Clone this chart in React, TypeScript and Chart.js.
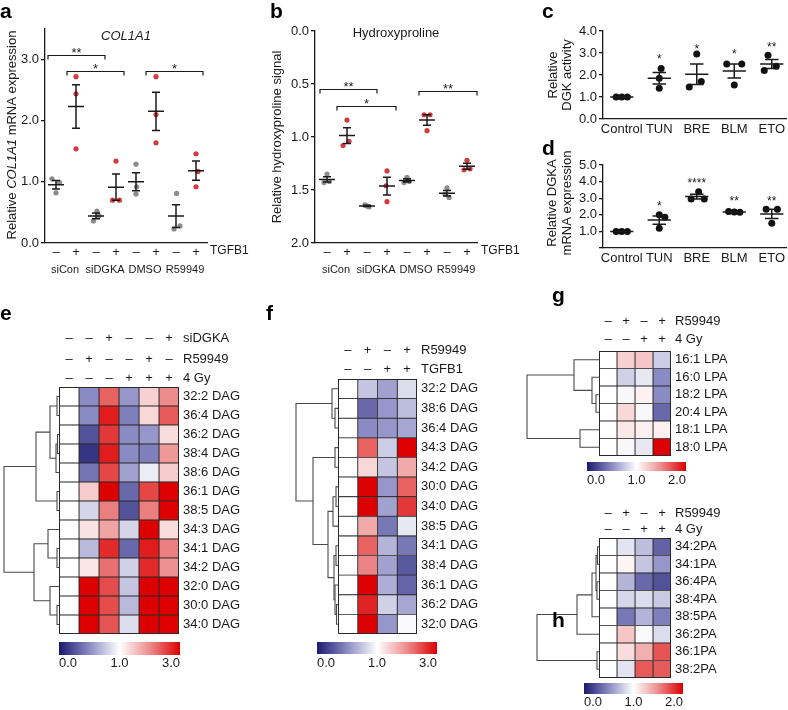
import React, { useEffect, useRef } from 'react';
import { Chart, registerables } from 'chart.js';

Chart.register(...registerables);

const FONT = '"Liberation Sans", Arial, Helvetica, sans-serif';
Chart.defaults.font.family = FONT;
Chart.defaults.font.size = 12.5;
Chart.defaults.color = '#1a1a1a';

const INK = '#1a1a1a';
const GREY_DOT = '#8c8c8c';
const RED_DOT = '#d43b3f';
const BLACK_DOT = '#111111';

// ---------------- Panel a ----------------
const aTitle = 'COL1A1';
const aSigns = ['–', '+', '–', '+', '–', '+', '–', '+'];
const aGroups = ['siCon', 'siDGKA', 'DMSO', 'R59949'];
const aTreatment = 'TGFB1';
const aValues = [
  [1.05, 0.99, 0.82],
  [2.72, 2.44, 1.54],
  [0.52, 0.45, 0.36],
  [1.34, 0.7, 0.7],
  [1.29, 0.92, 0.8],
  [2.72, 2.1, 1.64],
  [0.81, 0.23, 0.28],
  [1.46, 1.17, 0.92],
];
const aJitter = [
  [-0.2, 0.17, 0],
  [0, 0, 0],
  [0.05, 0.15, -0.13],
  [0, -0.17, 0.17],
  [0, 0.03, 0],
  [0, 0, 0],
  [0.03, -0.1, 0.2],
  [0, 0.1, 0],
];
const aYTicks = [0, 1, 2, 3];
const aBrackets = [
  { x1: -0.4, x2: 2.45, y: 3.07, label: '**' },
  { x1: 0.55, x2: 3.4, y: 2.81, label: '*' },
  { x1: 4.5, x2: 7.35, y: 2.81, label: '*' },
];

// ---------------- Panel b ----------------
const bTitle = 'Hydroxyproline';
const bYTitle = 'Relative hydroxyproline signal';
const bSigns = ['–', '+', '–', '+', '–', '+', '–', '+'];
const bGroups = ['siCon', 'siDGKA', 'DMSO', 'R59949'];
const bTreatment = 'TGFB1';
const bValues = [
  [1.35, 1.43, 1.42],
  [0.84, 1.08, 1.04],
  [1.64, 1.65, 1.66],
  [1.32, 1.46, 1.61],
  [1.38, 1.43, 1.42],
  [0.79, 0.79, 0.94],
  [1.48, 1.54, 1.57],
  [1.22, 1.31, 1.3],
];
const bJitter = [
  [0, -0.15, 0.12],
  [0, -0.2, 0.1],
  [-0.1, 0, 0.1],
  [0, -0.05, 0],
  [0, -0.15, 0.12],
  [-0.15, 0.15, 0],
  [0, -0.1, 0.1],
  [0, -0.15, 0.15],
];
const bYTicks = [0, 0.5, 1, 1.5, 2];
const bBrackets = [
  { x1: -0.35, x2: 2.5, y: 0.55, label: '**' },
  { x1: 0.5, x2: 3.45, y: 0.71, label: '*' },
  { x1: 4.6, x2: 7.5, y: 0.57, label: '**' },
];

// ---------------- Panel c ----------------
const cCats = ['Control', 'TUN', 'BRE', 'BLM', 'ETO'];
const cYTitle = ['Relative', 'DGK activity'];
const cValues = [
  [1, 1, 1],
  [2.3, 1.85, 1.4],
  [2.95, 1.45, 1.7],
  [2.5, 2.5, 1.55],
  [2.9, 2.2, 2.4],
];
const cJitter = [
  [-0.15, 0, 0.15],
  [0.05, 0, 0],
  [0, -0.2, 0.12],
  [-0.2, 0.2, 0],
  [-0.1, -0.2, 0.12],
];
const cYTicks = [0, 1, 2, 3, 4];
const cStars = ['', '*', '*', '*', '**'];
const cStarY = [0, 2.85, 3.3, 3.08, 3.4];

// ---------------- Panel d ----------------
const dCats = ['Control', 'TUN', 'BRE', 'BLM', 'ETO'];
const dYTitle = ['Relative DGKA', 'mRNA expression'];
const dValues = [
  [1, 1, 1],
  [2.0, 1.85, 1.19],
  [3.39, 2.95, 2.95],
  [2.2, 2.17, 2.15],
  [2.33, 2.33, 1.49],
];
const dJitter = [
  [-0.15, 0, 0.15],
  [0, 0.15, 0],
  [0.05, -0.15, 0.2],
  [-0.15, 0, 0.15],
  [-0.15, 0.15, 0],
];
const dYTicks = [0, 1, 2, 3, 4, 5];
const dStars = ['', '*', '****', '**', '**'];
const dStarY = [0, 2.7, 4.1, 3.0, 3.0];

// ---------------- Panel e ----------------
const eRows = ['32:2 DAG', '36:4 DAG', '36:2 DAG', '38:4 DAG', '38:6 DAG', '36:1 DAG', '38:5 DAG', '34:3 DAG', '34:1 DAG', '34:2 DAG', '32:0 DAG', '30:0 DAG', '34:0 DAG'];
const eHeaderLabels = ['siDGKA', 'R59949', '4 Gy'];
const eHeaderSigns = [
  ['–', '–', '+', '–', '–', '+'],
  ['–', '+', '–', '–', '+', '–'],
  ['–', '–', '–', '+', '+', '+'],
];
const eValues = [
  [1, 0.5, 2.3, 0.55, 1.4, 2.0],
  [1, 0.5, 2.8, 0.45, 1.35, 2.35],
  [1, 0.25, 2.6, 0.5, 0.55, 1.3],
  [1, 0.12, 2.8, 0.5, 0.45, 1.9],
  [1, 0.4, 2.5, 0.6, 0.92, 1.45],
  [1, 1.45, 3.0, 0.35, 2.5, 3.0],
  [1, 0.82, 2.1, 0.25, 2.1, 3.0],
  [1, 1.25, 1.8, 0.82, 3.0, 1.3],
  [1, 0.7, 2.7, 0.35, 2.8, 2.1],
  [1, 1.22, 2.2, 0.8, 2.7, 1.95],
  [1, 3.0, 2.45, 0.75, 3.0, 3.0],
  [1, 3.0, 2.45, 0.7, 3.0, 3.0],
  [1, 3.0, 2.4, 0.85, 3.0, 3.0],
];
const eRange: [number, number, number] = [0, 1, 3];
const eScaleLabels = ['0.0', '1.0', '3.0'];
// linkage: [childA, childB, height]; leaves are 0..n-1, merges n.. in order
const eMerges = [
  [0, 1, 2], [2, 3, 1.5], [14, 4, 3], [13, 15, 9], [5, 6, 2], [16, 17, 23],
  [8, 9, 2], [7, 19, 11], [11, 12, 2], [10, 21, 9], [20, 22, 25], [18, 23, 55],
];
const eHeight = 55;

// ---------------- Panel f ----------------
const fRows = ['32:2 DAG', '38:6 DAG', '36:4 DAG', '34:3 DAG', '34:2 DAG', '30:0 DAG', '34:0 DAG', '38:5 DAG', '34:1 DAG', '38:4 DAG', '36:1 DAG', '36:2 DAG', '32:0 DAG'];
const fHeaderLabels = ['R59949', 'TGFB1'];
const fHeaderSigns = [
  ['–', '+', '–', '+'],
  ['–', '–', '+', '+'],
];
const fValues = [
  [1, 0.75, 0.6, 0.85],
  [1, 0.35, 0.55, 0.72],
  [1, 0.5, 0.55, 0.62],
  [1, 2.3, 0.78, 3.0],
  [1, 1.35, 0.75, 1.75],
  [1, 3.0, 0.55, 2.3],
  [1, 3.0, 0.6, 2.6],
  [1, 1.75, 0.42, 0.9],
  [1, 2.3, 0.68, 0.42],
  [1, 2.05, 0.6, 0.28],
  [1, 3.0, 0.65, 0.33],
  [1, 2.75, 0.8, 0.62],
  [1, 3.0, 0.55, 0.98],
];
const fRange: [number, number, number] = [0, 1, 3];
const fScaleLabels = ['0.0', '1.0', '3.0'];
const fMerges = [
  [1, 2, 3], [0, 13, 6], [3, 4, 3], [5, 6, 2], [16, 7, 5], [8, 9, 2],
  [11, 12, 1.5], [10, 19, 3], [18, 20, 4], [17, 21, 10], [15, 22, 25], [14, 23, 42],
];
const fHeight = 42;

// ---------------- Panel g ----------------
const gRows = ['16:1 LPA', '16:0 LPA', '18:2 LPA', '20:4 LPA', '18:1 LPA', '18:0 LPA'];
const gHeaderLabels = ['R59949', '4 Gy'];
const gHeaderSigns = [
  ['–', '+', '–', '+'],
  ['–', '–', '+', '+'],
];
const gValues = [
  [1, 1.2, 1.25, 0.78],
  [1, 0.8, 0.9, 0.5],
  [1, 0.97, 1.06, 0.5],
  [1, 1.17, 0.97, 0.35],
  [1, 1.1, 1.07, 1.07],
  [1, 0.97, 0.9, 2.0],
];
const gRange: [number, number, number] = [0, 1, 2];
const gScaleLabels = ['0.0', '1.0', '2.0'];
const gMerges = [[2, 3, 3], [1, 6, 7], [0, 7, 25], [4, 5, 19], [8, 9, 72]];
const gHeight = 72;

// ---------------- Panel h ----------------
const hRows = ['34:2PA', '34:1PA', '36:4PA', '38:4PA', '38:5PA', '36:2PA', '36:1PA', '38:2PA'];
const hHeaderLabels = ['R59949', '4 Gy'];
const hHeaderSigns = [
  ['–', '+', '–', '+'],
  ['–', '–', '+', '+'],
];
const hValues = [
  [1, 0.88, 0.72, 0.32],
  [1, 1.05, 0.75, 0.55],
  [1, 0.68, 0.35, 0.25],
  [1, 0.83, 0.85, 0.77],
  [1, 0.42, 0.68, 0.45],
  [1, 1.25, 0.98, 0.85],
  [1, 1.15, 1.35, 1.7],
  [1, 0.88, 1.68, 1.68],
];
const hRange: [number, number, number] = [0, 1, 2];
const hScaleLabels = ['0.0', '1.0', '2.0'];
const hMerges = [[0, 1, 1.5], [2, 3, 2], [8, 9, 3], [10, 4, 7], [11, 5, 22], [6, 7, 2], [12, 13, 62]];
const hHeight = 62;

// ---------------- helpers ----------------
const mean = (a: number[]) => a.reduce((s, v) => s + v, 0) / a.length;
const sem = (a: number[]) => {
  const m = mean(a);
  const v = a.reduce((s, x) => s + (x - m) ** 2, 0) / (a.length - 1);
  return Math.sqrt(v / a.length);
};

type TxtOpt = { size?: number; align?: CanvasTextAlign; baseline?: CanvasTextBaseline; italic?: boolean; bold?: boolean; color?: string };
function txt(ctx: CanvasRenderingContext2D, s: string, x: number, y: number, o: TxtOpt = {}) {
  ctx.save();
  ctx.font = `${o.italic ? 'italic ' : ''}${o.bold ? 'bold ' : ''}${o.size ?? 12.5}px ${FONT}`;
  ctx.textAlign = o.align ?? 'center';
  ctx.textBaseline = o.baseline ?? 'middle';
  ctx.fillStyle = o.color ?? INK;
  ctx.fillText(s, x, y);
  ctx.restore();
}
function vtxt(ctx: CanvasRenderingContext2D, parts: [string, boolean][], cx: number, cy: number, size: number) {
  ctx.save();
  ctx.translate(cx, cy);
  ctx.rotate(-Math.PI / 2);
  const fonts = parts.map(([, it]) => `${it ? 'italic ' : ''}${size}px ${FONT}`);
  let total = 0;
  const widths = parts.map(([s], i) => {
    ctx.font = fonts[i];
    const w = ctx.measureText(s).width;
    total += w;
    return w;
  });
  let x = -total / 2;
  ctx.textBaseline = 'middle';
  ctx.textAlign = 'left';
  ctx.fillStyle = INK;
  parts.forEach(([s], i) => {
    ctx.font = fonts[i];
    ctx.fillText(s, x, 0);
    x += widths[i];
  });
  ctx.restore();
}
function drawBrackets(chart: any, brackets: { x1: number; x2: number; y: number; label: string }[]) {
  const { ctx, scales: { x, y } } = chart;
  ctx.save();
  ctx.strokeStyle = INK;
  ctx.lineWidth = 1.2;
  brackets.forEach((b) => {
    const x1 = x.getPixelForValue(b.x1);
    const x2 = x.getPixelForValue(b.x2);
    const py = Math.round(y.getPixelForValue(b.y)) + 0.5;
    ctx.beginPath();
    ctx.moveTo(x1, py + 4);
    ctx.lineTo(x1, py);
    ctx.lineTo(x2, py);
    ctx.lineTo(x2, py + 4);
    ctx.stroke();
    txt(ctx, b.label, (x1 + x2) / 2, py + 1, { baseline: 'alphabetic', size: 13 });
  });
  ctx.restore();
}

interface DotSpec {
  values: number[][];
  jitter: number[][];
  colors: string[];
  radius: number;
  xmin: number;
  xmax: number;
  ymin: number;
  ymax: number;
  reverse?: boolean;
  xLabels: string[];
  yTicks: number[];
  hideZero?: boolean;
  meanHalf: number;
  capHalf: number;
  yAxisW: number;
  xAxisH: number;
  pad: { left: number; top: number; right: number; bottom: number };
  xTickPad: number;
  xFont: number;
  extra: (chart: any) => void;
}

function dotConfig(s: DotSpec): any {
  const datasets: any[] = [];
  const seg: any[] = [];
  s.values.forEach((vals, i) => {
    const m = mean(vals);
    const e = sem(vals);
    seg.push(
      { x: i - s.meanHalf, y: m }, { x: i + s.meanHalf, y: m }, { x: i, y: null },
      { x: i, y: m - e }, { x: i, y: m + e }, { x: i, y: null },
      { x: i - s.capHalf, y: m + e }, { x: i + s.capHalf, y: m + e }, { x: i, y: null },
      { x: i - s.capHalf, y: m - e }, { x: i + s.capHalf, y: m - e }, { x: i, y: null },
    );
  });
  datasets.push({
    data: seg,
    showLine: true,
    spanGaps: false,
    borderColor: INK,
    borderWidth: 1.5,
    pointRadius: 0,
    order: 0,
    clip: false,
  });
  s.values.forEach((vals, i) => {
    datasets.push({
      data: vals.map((v, k) => ({ x: i + s.jitter[i][k], y: v })),
      showLine: false,
      pointRadius: s.radius,
      pointBackgroundColor: s.colors[i],
      pointBorderColor: s.colors[i],
      pointBorderWidth: 0,
      order: 1,
      clip: false,
    });
  });
  return {
    type: 'scatter',
    data: { datasets },
    options: {
      responsive: false,
      animation: false,
      events: [],
      layout: { padding: s.pad, autoPadding: false },
      plugins: { legend: { display: false }, tooltip: { enabled: false } },
      scales: {
        x: {
          type: 'linear',
          min: s.xmin,
          max: s.xmax,
          afterBuildTicks: (ax: any) => {
            ax.ticks = s.xLabels.map((_, i) => ({ value: i }));
          },
          afterFit: (ax: any) => {
            ax.height = s.xAxisH;
          },
          ticks: {
            autoSkip: false,
            maxRotation: 0,
            minRotation: 0,
            padding: s.xTickPad,
            font: { size: s.xFont },
            color: INK,
            callback: (v: any) => s.xLabels[Math.round(v)] ?? '',
          },
          grid: { display: false, drawTicks: false },
          border: { display: true, color: INK, width: 1.3 },
        },
        y: {
          type: 'linear',
          min: s.ymin,
          max: s.ymax,
          reverse: !!s.reverse,
          afterBuildTicks: (ax: any) => {
            ax.ticks = s.yTicks.map((v) => ({ value: v }));
          },
          afterFit: (ax: any) => {
            ax.width = s.yAxisW;
          },
          ticks: {
            autoSkip: false,
            padding: 2,
            font: { size: 13 },
            color: INK,
            callback: (v: any) => (s.hideZero && v === 0 ? '' : Number(v).toFixed(1)),
          },
          grid: { drawOnChartArea: false, drawTicks: true, tickLength: 4, color: INK, lineWidth: 1.3 },
          border: { display: true, color: INK, width: 1.3 },
        },
      },
    },
    plugins: [{ id: 'dotExtras', afterDraw: (chart: any) => s.extra(chart) }],
  };
}

// heatmap colors
const NAVY = [26, 26, 110];
const MIDBLUE = [138, 138, 196];
const WHITE = [255, 255, 255];
const MIDRED = [236, 140, 140];
const RED = [221, 0, 0];
const mix = (a: number[], b: number[], t: number) =>
  `rgb(${a.map((v, i) => Math.round(v + (b[i] - v) * t)).join(',')})`;
function heatColor(v: number, [lo, mid, hi]: [number, number, number]) {
  if (v <= mid) {
    const t = Math.min(1, (mid - v) / (mid - lo));
    return t < 0.5 ? mix(WHITE, MIDBLUE, t * 2) : mix(MIDBLUE, NAVY, (t - 0.5) * 2);
  }
  const t = Math.min(1, (v - mid) / (hi - mid));
  return t < 0.5 ? mix(WHITE, MIDRED, t * 2) : mix(MIDRED, RED, (t - 0.5) * 2);
}

interface HeatSpec {
  rows: string[];
  values: number[][];
  range: [number, number, number];
  headerLabels: string[];
  headerSigns: string[][];
  headerOffsets: number[];
  scaleLabels: string[];
  cbar: { dx1: number; dx2: number; dy1: number; dy2: number; labelDy: number };
  pad: { left: number; top: number; right: number; bottom: number };
  axisW: number;
}

function heatConfig(s: HeatSpec): any {
  const ncol = s.values[0].length;
  const datasets = Array.from({ length: ncol }, (_, c) => ({
    data: s.rows.map(() => [c, c + 1]),
    backgroundColor: s.values.map((r) => heatColor(r[c], s.range)),
    borderColor: '#2a2a2a',
    borderWidth: 0.8,
    borderSkipped: false,
    barPercentage: 1,
    categoryPercentage: 1,
    grouped: false,
  }));
  return {
    type: 'bar',
    data: { labels: s.rows, datasets },
    options: {
      indexAxis: 'y',
      responsive: false,
      animation: false,
      events: [],
      layout: { padding: s.pad, autoPadding: false },
      plugins: { legend: { display: false }, tooltip: { enabled: false } },
      scales: {
        x: { type: 'linear', display: false, min: 0, max: ncol },
        y: {
          type: 'category',
          position: 'right',
          grid: { display: false, drawTicks: false },
          border: { display: false },
          ticks: { padding: 4, font: { size: 13 }, color: INK, autoSkip: false },
          afterFit: (ax: any) => {
            ax.width = s.axisW;
          },
        },
      },
    },
    plugins: [
      {
        id: 'heatExtras',
        afterDraw: (chart: any) => {
          const { ctx, chartArea: ca, scales: { x } } = chart;
          ctx.save();
          ctx.strokeStyle = '#2a2a2a';
          ctx.lineWidth = 1;
          ctx.strokeRect(ca.left + 0.5, ca.top + 0.5, ca.right - ca.left - 1, ca.bottom - ca.top - 1);
          ctx.restore();
          s.headerSigns.forEach((signs, k) => {
            const yy = ca.top - s.headerOffsets[k];
            signs.forEach((sg, c) => txt(ctx, sg, x.getPixelForValue(c + 0.5), yy, { size: 13 }));
            txt(ctx, s.headerLabels[k], ca.right + 4, yy, { align: 'left', size: 13 });
          });
          const x1 = ca.left + s.cbar.dx1;
          const x2 = ca.right + s.cbar.dx2;
          const y1 = ca.bottom + s.cbar.dy1;
          const y2 = ca.bottom + s.cbar.dy2;
          const g = ctx.createLinearGradient(x1, 0, x2, 0);
          g.addColorStop(0, mix(NAVY, NAVY, 0));
          g.addColorStop(0.25, mix(MIDBLUE, MIDBLUE, 0));
          g.addColorStop(0.5, mix(WHITE, WHITE, 0));
          g.addColorStop(0.75, mix(MIDRED, MIDRED, 0));
          g.addColorStop(1, mix(RED, RED, 0));
          ctx.save();
          ctx.fillStyle = g;
          ctx.fillRect(x1, y1, x2 - x1, y2 - y1);
          ctx.restore();
          const ly = ca.bottom + s.cbar.labelDy;
          txt(ctx, s.scaleLabels[0], x1, ly, { align: 'left', size: 13 });
          txt(ctx, s.scaleLabels[1], (x1 + x2) / 2, ly, { align: 'center', size: 13 });
          txt(ctx, s.scaleLabels[2], x2, ly, { align: 'right', size: 13 });
        },
      },
    ],
  };
}

function dendroConfig(merges: number[][], nrows: number, hmax: number, pad: any): any {
  const pos = Array.from({ length: nrows }, (_, i) => ({ h: 0, y: i + 0.5 }));
  const datasets = merges.map(([a, b, h]) => {
    const A = pos[a];
    const B = pos[b];
    pos.push({ h, y: (A.y + B.y) / 2 });
    return {
      data: [{ x: A.h, y: A.y }, { x: h, y: A.y }, { x: h, y: B.y }, { x: B.h, y: B.y }],
      showLine: true,
      pointRadius: 0,
      borderColor: '#4a4a4a',
      borderWidth: 1.1,
      clip: false,
    };
  });
  return {
    type: 'scatter',
    data: { datasets },
    options: {
      responsive: false,
      animation: false,
      events: [],
      layout: { padding: pad, autoPadding: false },
      plugins: { legend: { display: false }, tooltip: { enabled: false } },
      scales: {
        x: { type: 'linear', display: false, reverse: true, min: 0, max: hmax },
        y: { type: 'linear', display: false, reverse: true, min: 0, max: nrows },
      },
    },
  };
}

function ChartCanvas({ left, top, width, height, make }: { left: number; top: number; width: number; height: number; make: () => any }) {
  const ref = useRef<HTMLCanvasElement>(null);
  useEffect(() => {
    const chart = new Chart(ref.current as HTMLCanvasElement, make());
    return () => chart.destroy();
  }, []);
  return (
    <canvas
      ref={ref}
      width={width}
      height={height}
      style={{ position: 'absolute', left, top, width, height }}
    />
  );
}

const signColors = (signs: string[]) => signs.map((s) => (s === '+' ? RED_DOT : GREY_DOT));

const panelA = () =>
  dotConfig({
    values: aValues,
    jitter: aJitter,
    colors: signColors(aSigns),
    radius: 2.6,
    xmin: -0.55,
    xmax: 7.55,
    ymin: 0,
    ymax: 3.5,
    xLabels: aSigns,
    yTicks: aYTicks,
    meanHalf: 0.4,
    capHalf: 0.2,
    yAxisW: 45,
    xAxisH: 20,
    pad: { left: 0, top: 29, right: 55, bottom: 17 },
    xTickPad: 2,
    xFont: 13,
    extra: (chart) => {
      const { ctx, chartArea: ca, scales: { x } } = chart;
      vtxt(ctx, [['Relative ', false], [aTitle, true], [' mRNA expression', false]], 12, (ca.top + ca.bottom) / 2 - 1, 13);
      txt(ctx, aTitle, (ca.left + ca.right) / 2, ca.top + 7, { italic: true, size: 13 });
      aGroups.forEach((g, i) => txt(ctx, g, x.getPixelForValue(2 * i + 0.45), ca.bottom + 27, { size: 11 }));
      txt(ctx, aTreatment, ca.right + 3, ca.bottom + 8, { align: 'left', size: 12 });
      drawBrackets(chart, aBrackets);
    },
  });

const panelB = () =>
  dotConfig({
    values: bValues,
    jitter: bJitter,
    colors: signColors(bSigns),
    radius: 2.6,
    xmin: -0.6,
    xmax: 7.5,
    ymin: 0,
    ymax: 2,
    reverse: true,
    xLabels: bSigns,
    yTicks: bYTicks,
    meanHalf: 0.4,
    capHalf: 0.2,
    yAxisW: 53,
    xAxisH: 20,
    pad: { left: 0, top: 31, right: 53, bottom: 17 },
    xTickPad: 2,
    xFont: 13,
    extra: (chart) => {
      const { ctx, chartArea: ca, scales: { x } } = chart;
      vtxt(ctx, [[bYTitle, false]], 15, (ca.top + ca.bottom) / 2, 13);
      txt(ctx, bTitle, ca.left + 81, ca.top + 2, { size: 13 });
      bGroups.forEach((g, i) => txt(ctx, g, x.getPixelForValue(2 * i + 0.45), ca.bottom + 27, { size: 11 }));
      txt(ctx, bTreatment, ca.right + 4, ca.bottom + 8, { align: 'left', size: 12 });
      drawBrackets(chart, bBrackets);
    },
  });

const starDrawer = (stars: string[], starY: number[]) => (chart: any) => {
  const { ctx, scales: { x, y } } = chart;
  stars.forEach((s, i) => {
    if (!s) return;
    txt(ctx, s, x.getPixelForValue(i), y.getPixelForValue(starY[i]) + 7, { baseline: 'alphabetic', size: 12 });
  });
};

const panelC = () =>
  dotConfig({
    values: cValues,
    jitter: cJitter,
    colors: cCats.map(() => BLACK_DOT),
    radius: 3.5,
    xmin: -0.5,
    xmax: 4.4,
    ymin: 0,
    ymax: 4,
    xLabels: cCats,
    yTicks: cYTicks,
    meanHalf: 0.31,
    capHalf: 0.18,
    yAxisW: 73,
    xAxisH: 16,
    pad: { left: 0, top: 31, right: 0, bottom: 3 },
    xTickPad: 3,
    xFont: 13,
    extra: (chart) => {
      const { ctx, chartArea: ca } = chart;
      const cy = (ca.top + ca.bottom) / 2;
      vtxt(ctx, [[cYTitle[0], false]], 23, cy, 13);
      vtxt(ctx, [[cYTitle[1], false]], 37, cy, 13);
      starDrawer(cStars, cStarY)(chart);
    },
  });

const panelD = () =>
  dotConfig({
    values: dValues,
    jitter: dJitter,
    colors: dCats.map(() => BLACK_DOT),
    radius: 3.5,
    xmin: -0.5,
    xmax: 4.4,
    ymin: 0,
    ymax: 5,
    hideZero: true,
    xLabels: dCats,
    yTicks: dYTicks,
    meanHalf: 0.31,
    capHalf: 0.18,
    yAxisW: 73,
    xAxisH: 18,
    pad: { left: 0, top: 27, right: 0, bottom: 12 },
    xTickPad: 3,
    xFont: 13,
    extra: (chart) => {
      const { ctx } = chart;
      vtxt(ctx, [[dYTitle[0], false]], 22, 65, 13);
      vtxt(ctx, [[dYTitle[1], false]], 37, 65, 13);
      starDrawer(dStars, dStarY)(chart);
    },
  });

const heatE = () =>
  heatConfig({
    rows: eRows, values: eValues, range: eRange,
    headerLabels: eHeaderLabels, headerSigns: eHeaderSigns, headerOffsets: [49, 28, 9],
    scaleLabels: eScaleLabels,
    cbar: { dx1: 0, dx2: 1, dy1: 8, dy2: 21, labelDy: 29 },
    pad: { left: 9, top: 67, right: 0, bottom: 76 }, axisW: 121,
  });
const heatF = () =>
  heatConfig({
    rows: fRows, values: fValues, range: fRange,
    headerLabels: fHeaderLabels, headerSigns: fHeaderSigns, headerOffsets: [29, 10],
    scaleLabels: fScaleLabels,
    cbar: { dx1: -21, dx2: 20, dy1: 8, dy2: 20, labelDy: 29 },
    pad: { left: 28, top: 59, right: 0, bottom: 76 }, axisW: 93,
  });
const heatG = () =>
  heatConfig({
    rows: gRows, values: gValues, range: gRange,
    headerLabels: gHeaderLabels, headerSigns: gHeaderSigns, headerOffsets: [30, 12],
    scaleLabels: gScaleLabels,
    cbar: { dx1: -12, dx2: 15, dy1: 6, dy2: 15, labelDy: 24 },
    pad: { left: 39, top: 51, right: 0, bottom: 34 }, axisW: 117,
  });
const heatH = () =>
  heatConfig({
    rows: hRows, values: hValues, range: hRange,
    headerLabels: hHeaderLabels, headerSigns: hHeaderSigns, headerOffsets: [25, 9],
    scaleLabels: hScaleLabels,
    cbar: { dx1: -15, dx2: 12, dy1: 5, dy2: 16, labelDy: 24 },
    pad: { left: 39, top: 48, right: 0, bottom: 32 }, axisW: 117,
  });

const letters = [
  { t: 'a', x: 0, y: 0 },
  { t: 'b', x: 270, y: 0 },
  { t: 'c', x: 542, y: 0 },
  { t: 'd', x: 542, y: 137 },
  { t: 'e', x: 0, y: 302 },
  { t: 'f', x: 266, y: 302 },
  { t: 'g', x: 552, y: 284 },
  { t: 'h', x: 552, y: 609 },
];

export default function App() {
  return (
    <div style={{ position: 'absolute', left: 0, top: 0, width: 788, height: 710, background: '#fff', overflow: 'hidden' }}>
      <ChartCanvas left={0} top={0} width={262} height={280} make={panelA} />
      <ChartCanvas left={262} top={0} width={268} height={280} make={panelB} />
      <ChartCanvas left={530} top={0} width={258} height={138} make={panelC} />
      <ChartCanvas left={530} top={138} width={258} height={140} make={panelD} />
      <ChartCanvas left={0} top={320} width={59} height={390} make={() => dendroConfig(eMerges, eRows.length, eHeight, { left: 4, top: 67, right: 0, bottom: 76 })} />
      <ChartCanvas left={50} top={320} width={250} height={390} make={heatE} />
      <ChartCanvas left={290} top={320} width={48} height={390} make={() => dendroConfig(fMerges, fRows.length, fHeight, { left: 6, top: 59, right: 0, bottom: 76 })} />
      <ChartCanvas left={310} top={320} width={200} height={390} make={heatF} />
      <ChartCanvas left={520} top={300} width={79} height={190} make={() => dendroConfig(gMerges, gRows.length, gHeight, { left: 7, top: 51, right: 0, bottom: 34 })} />
      <ChartCanvas left={560} top={300} width={228} height={190} make={heatG} />
      <ChartCanvas left={520} top={490} width={79} height={220} make={() => dendroConfig(hMerges, hRows.length, hHeight, { left: 17, top: 48, right: 0, bottom: 32 })} />
      <ChartCanvas left={560} top={490} width={228} height={220} make={heatH} />
      {letters.map((l) => (
        <div
          key={l.t}
          style={{ position: 'absolute', left: l.x, top: l.y, font: `bold 21px ${FONT}`, lineHeight: '21px', color: '#000' }}
        >
          {l.t}
        </div>
      ))}
    </div>
  );
}
